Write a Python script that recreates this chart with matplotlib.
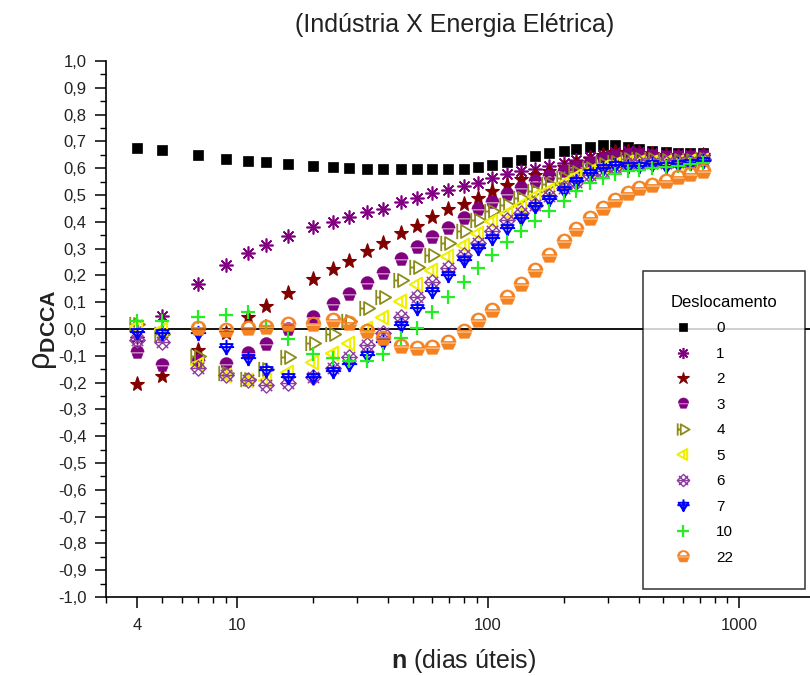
import numpy as np
import matplotlib
matplotlib.use("Agg")
import matplotlib.pyplot as plt
from matplotlib.path import Path

plt.rcParams['font.family'] = ['Liberation Sans', 'DejaVu Sans']
plt.rcParams['mathtext.fontset'] = 'custom'
plt.rcParams['mathtext.rm'] = 'Liberation Sans'
plt.rcParams['mathtext.bf'] = 'Liberation Sans:bold'
plt.rcParams['mathtext.it'] = 'Liberation Sans:italic'

# Box sizes n (business days)
n = [4, 5, 7, 9, 11, 13, 16, 20, 24, 28, 33, 38, 45, 52, 60, 69, 80, 91, 104,
     119, 135, 154, 175, 200, 225, 255, 287, 320, 360, 400, 450, 510, 570, 640, 720]

# rho_DCCA for each lag (deslocamento)
rho_0 = [.677, .667, .648, .635, .628, .623, .617, .610, .604, .600, .598, .597, .597,
         .597, .597, .597, .597, .604, .612, .624, .632, .645, .655, .663, .673, .680,
         .685, .685, .680, .672, .665, .660, .658, .657, .658]
rho_1 = [-.03, .05, .167, .24, .283, .315, .348, .379, .40, .418, .437, .448, .473,
         .49, .508, .52, .533, .546, .564, .577, .589, .598, .61, .62, .63, .64, .65,
         .66, .665, .66, .655, .65, .648, .648, .65]
rho_2 = [-.206, -.176, -.08, -.014, .044, .087, .135, .186, .224, .255, .29, .321,
         .358, .386, .418, .446, .468, .49, .514, .536, .558, .575, .59, .605, .62,
         .635, .648, .66, .662, .658, .652, .648, .645, .645, .648]
rho_3 = [-.085, -.135, -.12, -.129, -.089, -.056, -.001, .046, .094, .13, .171, .209,
         .261, .305, .343, .377, .414, .448, .473, .502, .527, .552, .57, .59, .605,
         .62, .635, .645, .65, .65, .645, .64, .64, .64, .645]
rho_4 = [.02, -.02, -.10, -.165, -.185, -.15, -.105, -.054, -.017, .03, .077, .119,
         .184, .233, .277, .321, .364, .408, .44, .464, .49, .515, .54, .565, .585,
         .60, .615, .625, .635, .635, .635, .632, .632, .632, .635]
rho_5 = [.01, 0.0, -.13, -.172, -.19, -.19, -.16, -.122, -.09, -.052, .003, .046,
         .106, .168, .221, .271, .315, .358, .402, .433, .464, .495, .52, .545, .57,
         .59, .605, .615, .625, .625, .625, .625, .625, .627, .63]
rho_6 = [-.04, -.05, -.146, -.17, -.19, -.21, -.203, -.18, -.146, -.104, -.06, -.016,
         .046, .118, .177, .227, .277, .321, .364, .408, .433, .464, .495, .525, .55,
         .575, .59, .605, .615, .62, .62, .62, .622, .625, .63]
rho_7 = [-.01, -.015, -.015, -.066, -.11, -.154, -.179, -.18, -.157, -.129, -.097,
         -.048, .015, .077, .14, .202, .258, .302, .34, .377, .414, .458, .485, .52,
         .552, .583, .602, .612, .61, .61, .614, .61, .614, .62, .627]
rho_10 = [.03, .03, .046, .052, .065, .01, -.039, -.094, -.11, -.12, -.12, -.095,
          -.035, .003, .063, .118, .177, .229, .277, .325, .364, .402, .44, .477, .514,
          .546, .564, .58, .59, .595, .6, .605, .61, .615, .62]
rho_22 = [np.nan, np.nan, .005, -.004, .003, .006, .017, .017, .032, .022, -.006,
          -.035, -.063, -.07, -.069, -.048, -.006, .034, .071, .121, .167, .22, .275,
          .327, .375, .415, .45, .483, .506, .525, .539, .553, .567, .577, .59]

lags = ['0', '1', '2', '3', '4', '5', '6', '7', '10', '22']
series = [rho_0, rho_1, rho_2, rho_3, rho_4, rho_5, rho_6, rho_7, rho_10, rho_22]


# ---- custom marker shapes ----
def arc(cx, cy, r, a0, a1, num=16):
    t = np.radians(np.linspace(a0, a1, num))
    return np.column_stack([cx + r * np.cos(t), cy + r * np.sin(t)])


def poly(pts, closed=True):
    pts = np.asarray(pts, float)
    if closed:
        verts = np.vstack([pts, pts[:1]])
        codes = [Path.MOVETO] + [Path.LINETO] * (len(pts) - 1) + [Path.CLOSEPOLY]
    else:
        verts = pts
        codes = [Path.MOVETO] + [Path.LINETO] * (len(pts) - 1)
    return Path(verts, codes)


def acorn():
    cap = poly(np.vstack([arc(0, 0.05, 1.0, 0, 180), [[-1.0, 0.05]]]))
    cup = poly([[-0.85, -0.15], [0.85, -0.15], [0.55, -0.9], [-0.55, -0.9]])
    return Path.make_compound_path(cap, cup)


def cupcake():
    outer = poly(arc(0, 0.0, 1.0, 0, 180))
    inner = poly(arc(0, 0.17, 0.6, 180, 0))
    cup = poly([[-0.95, -0.15], [0.95, -0.15], [0.6, -0.9], [-0.6, -0.9]])
    return Path.make_compound_path(outer, inner, cup)


def tri_right_bar():
    tri = poly([[-0.45, -0.85], [1.0, 0.0], [-0.45, 0.85]])
    bar = poly([[-0.95, -1.0], [-0.95, 1.0]], closed=False)
    mid = poly([[-0.95, 0.0], [-0.45, 0.0]], closed=False)
    return Path.make_compound_path(tri, bar, mid)


def tri_left_bar():
    tri = poly([[0.6, -0.9], [-1.0, 0.0], [0.6, 0.9]])
    bar = poly([[0.1, -0.6], [0.1, 0.6]], closed=False)
    return Path.make_compound_path(tri, bar)


def lattice():
    dia = poly([[0, 1], [1, 0], [0, -1], [-1, 0]])
    d1 = poly([[-0.75, 0.75], [0.75, -0.75]], closed=False)
    d2 = poly([[-0.75, -0.75], [0.75, 0.75]], closed=False)
    h = poly([[-1, 0], [1, 0]], closed=False)
    return Path.make_compound_path(dia, d1, d2, h)


def trident():
    tri = poly([[-0.8, 0.45], [0.8, 0.45], [0.0, -0.85]])
    h = poly([[-1.0, 0.05], [1.0, 0.05]], closed=False)
    v = poly([[0.0, 1.0], [0.0, -1.0]], closed=False)
    return Path.make_compound_path(tri, h, v)


styles = [
    dict(marker='s', color='black', ms=7.5, mfc='black', mew=0.5),
    dict(marker=(8, 2, 0), color='#800080', ms=10, mew=1.2),
    dict(marker='*', color='#800000', ms=11, mfc='#800000', mew=0.8),
    dict(marker=acorn(), color='#800080', ms=10, mfc='#800080', mew=0.3),
    dict(marker=tri_right_bar(), color='#8C8C1A', ms=11, mfc='none', mew=1.3),
    dict(marker=tri_left_bar(), color='#F0F000', ms=11, mfc='none', mew=1.5),
    dict(marker=lattice(), color='#8E3FA0', ms=11, mfc='none', mew=1.0),
    dict(marker=trident(), color='#0000FF', ms=11, mfc='none', mew=1.4),
    dict(marker='+', color='#22EE22', ms=10, mew=1.6),
    dict(marker=cupcake(), color='#F58220', ms=11, mfc='#F58220', mew=0.3),
]

fig = plt.figure(figsize=(8.1, 6.76), dpi=100)
ax = fig.add_axes([106 / 810, 79 / 676, 704 / 810, 536 / 676])

ax.axhline(0, color='black', lw=1.3, zorder=1.5)

handles = []
for lag, vals, st in zip(lags, series, styles):
    st = dict(st)
    h, = ax.plot(n, vals, linestyle='none', marker=st.pop('marker'),
                 color=st.pop('color'), markersize=st.pop('ms'),
                 markerfacecolor=st.pop('mfc', None), markeredgewidth=st.pop('mew'),
                 label=lag, zorder=3)
    handles.append(h)

ax.set_xscale('log')
ax.set_xlim(3, 1920)
ax.set_ylim(-1.0, 1.0)

ax.set_xticks([4, 10, 100, 1000])
ax.set_xticklabels(['4', '10', '100', '1000'])
ax.set_xticks([3, 5, 6, 7, 8, 9, 20, 30, 40, 50, 60, 70, 80, 90,
               200, 300, 400, 500, 600, 700, 800, 900], minor=True)
ax.xaxis.set_minor_formatter(plt.NullFormatter())

yt = np.round(np.arange(-1.0, 1.01, 0.1), 1)
ax.set_yticks(yt)
ax.set_yticklabels([f"{v:.1f}".replace('.', ',').replace('-0,0', '0,0') for v in yt])
ax.set_yticks(np.round(np.arange(-0.95, 1.0, 0.1), 2), minor=True)

ax.tick_params(axis='both', which='major', direction='out', length=8, width=1.1,
               labelsize=12, colors='black', labelcolor='#222222')
ax.tick_params(axis='both', which='minor', direction='out', length=4, width=1.0)
ax.tick_params(axis='x', which='major', pad=7)
ax.tick_params(axis='y', which='major', pad=6)

for s in ('top', 'right'):
    ax.spines[s].set_visible(False)
for s in ('left', 'bottom'):
    ax.spines[s].set_linewidth(1.2)

fig.text(455 / 810, 1 - 25 / 676, '(Indústria X Energia Elétrica)',
         ha='center', va='center', fontsize=18, color='#222222')
fig.text(464 / 810, 1 - 661 / 676, r'$\mathbf{n}$ (dias úteis)',
         ha='center', va='center', fontsize=18, color='#222222')
fig.text(44 / 810, 1 - 330 / 676, r'$\mathrm{\rho}_{\mathbf{DCCA}}$',
         ha='center', va='center', rotation=90, fontsize=22, color='#222222')

leg = ax.legend(handles=handles, title='Deslocamento', loc='lower left',
                bbox_to_anchor=(643 / 810, 1 - 589 / 676, 162 / 810, 0.3),
                bbox_transform=fig.transFigure, mode='expand',
                frameon=True, fancybox=False, fontsize=11, title_fontsize=12,
                borderpad=1.6, labelspacing=0.75, handletextpad=1.2,
                handlelength=2.0, borderaxespad=0, markerscale=0.8)
leg.get_frame().set_edgecolor('black')
leg.get_frame().set_linewidth(1.1)

fig.savefig('out.png', dpi=100)
